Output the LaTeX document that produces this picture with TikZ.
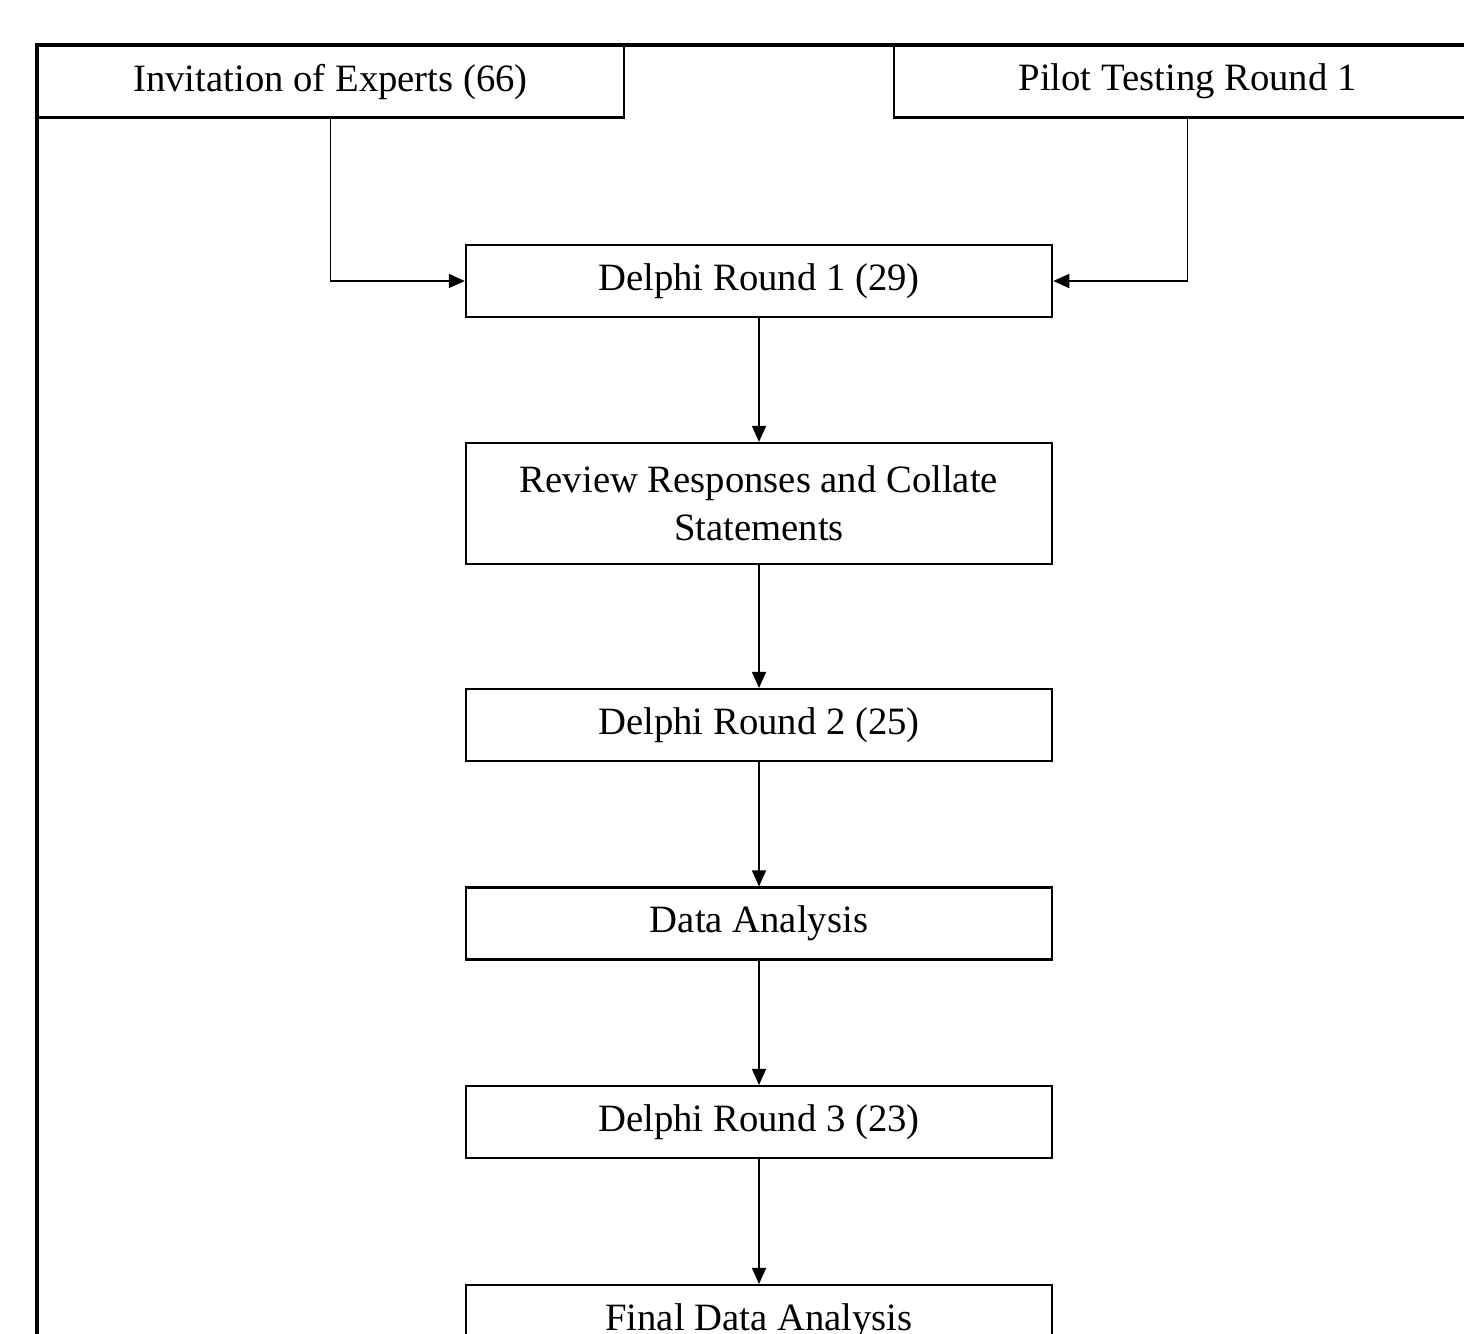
\documentclass[tikz,border=0pt]{standalone}
\usepackage{fontspec}
\setmainfont{Liberation Serif}
\usetikzlibrary{arrows.meta}

\begin{document}
\begin{tikzpicture}[x=0.01cm, y=-0.01cm,
  stage/.style={draw, line width=0.6pt, minimum width=5.86cm, minimum height=0.72cm,
    inner sep=0pt, align=center, font=\fontsize{11}{13.6}\selectfont},
  flow/.style={-{Triangle[length=0.16cm, width=0.14cm]}, line width=0.45pt}]
\useasboundingbox (0,0) rectangle (1464,1333);
\clip (0,0) rectangle (1464,1333);
% top row
\node[stage, minimum width=5.87cm] (invite) at (330.5,81.5) {Invitation of Experts (66)};
\node[stage, minimum width=5.87cm] (pilot) at (1187.5,81.5) {Pilot Testing Round 1};
% main column
\node[stage] (round1)   at (759,281)   {Delphi Round 1 (29)};
\node[stage, minimum height=1.21cm] (review) at (759,503.5) {Review Responses and Collate\\Statements};
\node[stage] (round2)   at (759,725)   {Delphi Round 2 (25)};
\node[stage] (analysis) at (759,923.5) {Data Analysis};
\node[stage] (round3)   at (759,1122)  {Delphi Round 3 (23)};
\node[stage] (final)    at (759,1321)  {Final Data Analysis};
% connectors
\draw[flow] (invite.south) |- (round1.west);
\draw[flow] (pilot.south) |- (round1.east);
\draw[flow] (round1) -- (review);
\draw[flow] (review) -- (round2);
\draw[flow] (round2) -- (analysis);
\draw[flow] (analysis) -- (round3);
\draw[flow] (round3) -- (final);
% outer frame
\draw[line width=0.9pt] (1470,45) -- (37,45) -- (37,1340);
\end{tikzpicture}
\end{document}
